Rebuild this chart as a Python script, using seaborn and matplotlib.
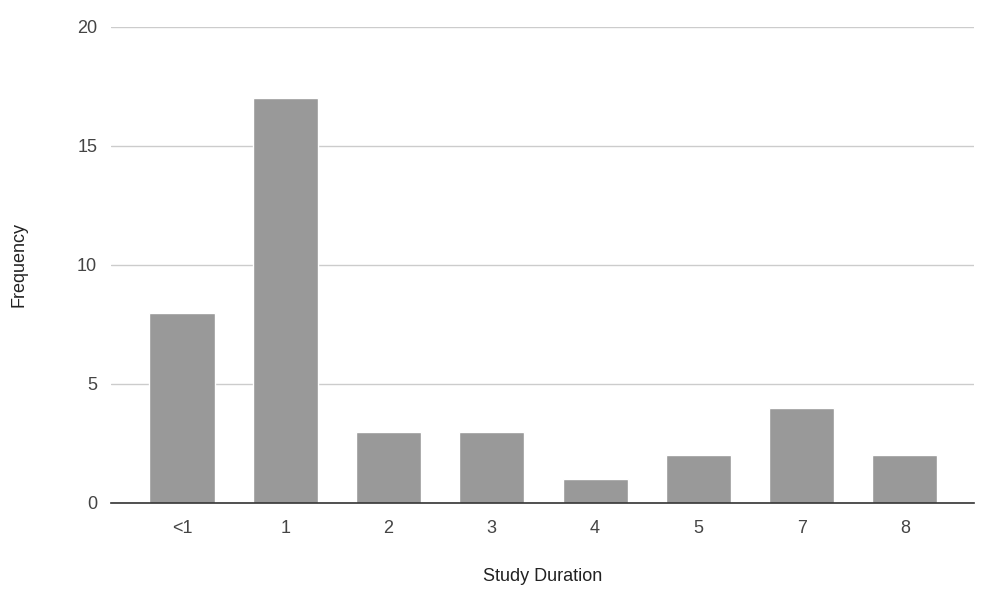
import matplotlib

matplotlib.use("Agg")
import matplotlib.pyplot as plt
import pandas as pd
import seaborn as sns

durations = ["<1", "1", "2", "3", "4", "5", "7", "8"]
frequencies = [8, 17, 3, 3, 1, 2, 4, 2]
y_ticks = [0, 5, 10, 15, 20]

df = pd.DataFrame({"duration": durations, "frequency": frequencies})

sns.set_style("white")
plt.rcParams["font.family"] = ["Liberation Sans", "DejaVu Sans"]

fig = plt.figure(figsize=(10.02, 6.0), dpi=100)
ax = fig.add_axes([0.1108, 0.1617, 0.8612, 0.7933])

sns.barplot(data=df, x="duration", y="frequency", color="#999999",
            saturation=1, width=0.63, ax=ax, zorder=3)

ax.set_xlim(-0.687, 7.668)
ax.set_ylim(0, 20)
ax.set_yticks(y_ticks)
ax.yaxis.grid(True, color="#cccccc", linewidth=1, zorder=0)
ax.xaxis.grid(False)
for side in ["top", "right", "left"]:
    ax.spines[side].set_visible(False)
ax.spines["bottom"].set_color("#333333")
ax.spines["bottom"].set_linewidth(1.2)
ax.spines["bottom"].set_zorder(4)
ax.tick_params(axis="both", length=0, labelsize=13, labelcolor="#444444")
ax.tick_params(axis="y", pad=10)
ax.tick_params(axis="x", pad=12)

ax.set_xlabel("Study Duration", fontsize=13, color="#222222")
ax.set_ylabel("Frequency", fontsize=13, color="#222222")
ax.xaxis.set_label_coords(0.5, -0.136)
ax.yaxis.set_label_coords(-0.097, 0.5)

fig.savefig("out.png", dpi=100, facecolor="white")
